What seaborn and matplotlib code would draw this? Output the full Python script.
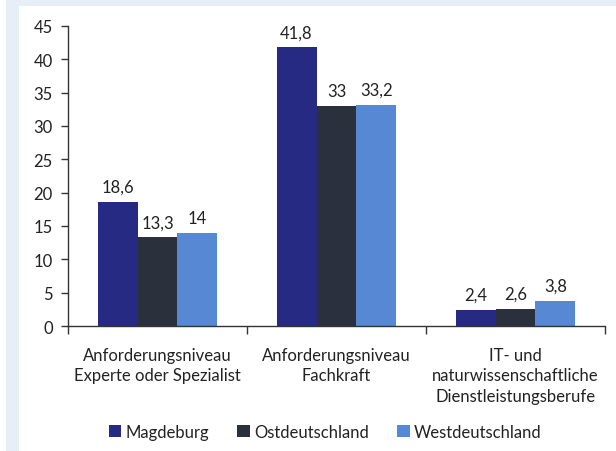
import matplotlib
matplotlib.use("Agg")
import matplotlib.pyplot as plt
import matplotlib.patches as mpatches
import seaborn as sns
import pandas as pd

categories = ["Anforderungsniveau\nExperte oder Spezialist",
              "Anforderungsniveau\nFachkraft",
              "IT- und\nnaturwissenschaftliche\nDienstleistungsberufe"]
series = ["Magdeburg", "Ostdeutschland", "Westdeutschland"]
magdeburg = [18.6, 41.8, 2.4]
ost = [13.3, 33.0, 2.6]
west = [14.0, 33.2, 3.8]
yticks = [0, 5, 10, 15, 20, 25, 30, 35, 40, 45]
colors = ["#262A83", "#2A313D", "#5688D3"]

rows = []
for s, vals in zip(series, [magdeburg, ost, west]):
    for c, v in zip(categories, vals):
        rows.append({"Kategorie": c, "Region": s, "Wert": v})
df = pd.DataFrame(rows)

sns.set_theme(style="white")
plt.rcParams["font.family"] = ["Lato", "DejaVu Sans"]
txt = "#222222"
fs = 12

fig = plt.figure(figsize=(6.16, 4.52), dpi=100)
fig.patch.set_facecolor("white")
bg = "#E6EEF8"
fig.add_artist(mpatches.Rectangle((6/616, 0), 13/616, 1, transform=fig.transFigure,
                                  facecolor=bg, edgecolor="none", zorder=0))
fig.add_artist(mpatches.Rectangle((6/616, 1-7/452), 1-6/616, 7/452, transform=fig.transFigure,
                                  facecolor=bg, edgecolor="none", zorder=0))

ax = fig.add_axes([68/616, (452-327)/452, (605-68)/616, 300/452])
ax.set_facecolor("none")
sns.barplot(data=df, x="Kategorie", y="Wert", hue="Region", order=categories,
            hue_order=series, palette=colors, width=0.67, gap=0, saturation=1,
            edgecolor="none", linewidth=0, legend=False, ax=ax)

for cont in ax.containers:
    labels = [(f"{b.get_height():g}").replace(".", ",") for b in cont]
    ax.bar_label(cont, labels=labels, padding=5, fontsize=fs, color=txt)

ax.set_xlim(-0.5, 2.5)
ax.set_ylim(0, 45)
ax.set_yticks(yticks)
ax.set_yticklabels([str(t) for t in yticks], fontsize=fs, color=txt)
ax.set_xlabel("")
ax.set_ylabel("")
ax.set_xticks([0, 1, 2])
ax.set_xticklabels(categories, fontsize=fs, color=txt, linespacing=1.34)
ax.set_xticks([-0.5, 0.5, 1.5, 2.5], minor=True)
ax.tick_params(axis="x", which="major", length=0, pad=15)
ax.tick_params(axis="x", which="minor", length=6, width=1, color="#333333", direction="out", bottom=True)
ax.tick_params(axis="y", length=5, width=1, color="#333333", direction="out", left=True, pad=6)
for side in ["top", "right"]:
    ax.spines[side].set_visible(False)
for side in ["left", "bottom"]:
    ax.spines[side].set_color("#333333")
    ax.spines[side].set_linewidth(1)

handles = [mpatches.Patch(facecolor=c, edgecolor="none", label=s) for c, s in zip(colors, series)]
leg = fig.legend(handles=handles, loc="center", bbox_to_anchor=(325/616, 19/452), ncol=3,
                 frameon=False, fontsize=fs, handlelength=0.75, handleheight=0.75,
                 handletextpad=0.25, columnspacing=1.7)
for t in leg.get_texts():
    t.set_color(txt)

fig.savefig("out.png", dpi=100, facecolor=fig.get_facecolor())
